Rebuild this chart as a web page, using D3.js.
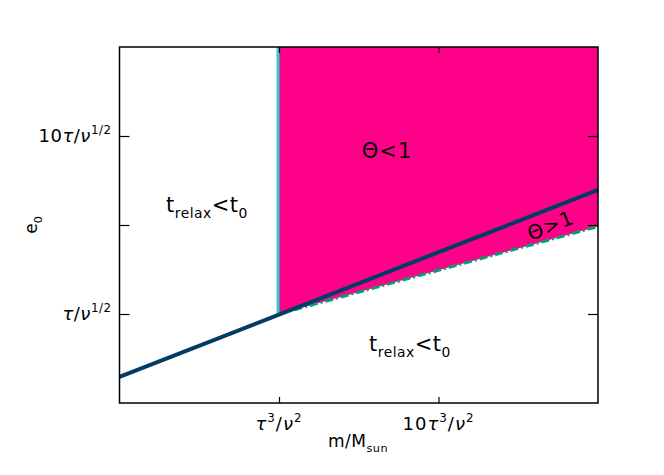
<!DOCTYPE html>
<html>
<head>
<meta charset="utf-8">
<script src="https://cdn.jsdelivr.net/npm/d3@7"></script>
<style>
  body { margin: 0; background: #fff; }
  text { font-family: "DejaVu Sans", sans-serif; fill: #000; }
</style>
</head>
<body>
<div id="visContainer"></div>
<script>
'use strict';

// axis ranges, in units of tau^3/nu^2 (x) and tau/nu^(1/2) (y)
var xDomain = [0.1, 100];
var yDomain = [0.3162, 31.62];
var xTicks = [1, 10];
var yTicks = [1, 3.162, 10];

// lines
var relaxM = [0.1, 100];
var relaxE = [0.443, 4.98];
var thetaM = [1, 100];
var thetaE = [1, 3.1];
var cyanM = [1, 1];
var cyanE = [1, 31.62];

var width = 664, height = 475;
var margin = {top: 47, left: 119.5, right: 66, bottom: 72};
var w = width - margin.left - margin.right;
var h = height - margin.top - margin.bottom;

var svg = d3.select('#visContainer')
  .append('svg')
  .attr('width', width)
  .attr('height', height);

var x = d3.scaleLog().domain(xDomain).range([0, w]);
var y = d3.scaleLog().domain(yDomain).range([h, 0]);

var g = svg.append('g').attr('transform', 'translate(' + margin.left + ',' + margin.top + ')');

// magenta region: right of the cyan line, above the theta=1 line
var region = [[cyanM[1], yDomain[1]], [xDomain[1], yDomain[1]], [thetaM[1], thetaE[1]], [thetaM[0], thetaE[0]]];
g.append('path')
  .attr('d', d3.line().x(function(d){return x(d[0]);}).y(function(d){return y(d[1]);})(region) + 'Z')
  .attr('fill', '#ff0088');

var line = d3.line().x(function(d){return x(d[0]);}).y(function(d){return y(d[1]);});
function pairs(a, b){ return a.map(function(v, i){ return [v, b[i]]; }); }

g.append('path').attr('d', line(pairs(cyanM, cyanE)))
  .attr('stroke', '#33cccc').attr('stroke-width', 3).attr('fill', 'none')
  .attr('transform', 'translate(-1,0)');

g.append('path').attr('d', line(pairs(thetaM, thetaE)))
  .attr('stroke', '#00a070').attr('stroke-width', 3).attr('fill', 'none')
  .attr('stroke-dasharray', '8,3,2,3');

g.append('path').attr('d', line(pairs(relaxM, relaxE)))
  .attr('stroke', '#003c66').attr('stroke-width', 4).attr('fill', 'none');

// frame
g.append('rect').attr('width', w).attr('height', h)
  .attr('fill', 'none').attr('stroke', '#000').attr('stroke-width', 1.5);

// ticks, pointing inward
var xb = d3.axisBottom(x).tickValues(xTicks).tickSize(-6).tickFormat('');
var xt = d3.axisTop(x).tickValues(xTicks).tickSize(-6).tickFormat('');
var yl = d3.axisLeft(y).tickValues(yTicks).tickSize(-10).tickFormat('');
var yr = d3.axisRight(y).tickValues(yTicks).tickSize(-10).tickFormat('');
[g.append('g').attr('transform', 'translate(0,' + h + ')').call(xb),
 g.append('g').call(xt),
 g.append('g').call(yl),
 g.append('g').attr('transform', 'translate(' + w + ',0)').call(yr)].forEach(function(a){
  a.select('.domain').remove();
  a.selectAll('line').attr('stroke', '#000').attr('stroke-width', 1.2);
});

// rich text helper: segments [text, style] where style in '', 'i' italic, 'sup', 'sub'
function rich(parent, px, py, segs, size, anchor, spacing) {
  var t = parent.append('text').attr('x', px).attr('y', py)
    .attr('font-size', size).attr('text-anchor', anchor || 'middle')
    .attr('letter-spacing', spacing || 0);
  var shift = 0;
  segs.forEach(function(s){
    var ts = t.append('tspan').text(s[0]);
    var dy = 0;
    if (s[1] === 'i') ts.attr('font-style', 'italic');
    if (s[1] === 'sup') { ts.attr('font-size', size * 0.66); dy = -size * 0.45; }
    if (s[1] === 'sub') { ts.attr('font-size', size * 0.66); dy = size * 0.3; }
    ts.attr('dy', dy - shift);
    shift = dy;
  });
  return t;
}

var tickSize = 18;
var yTickLabels = [
  [['τ', 'i'], ['/', ''], ['ν', 'i'], ['1/2', 'sup']],
  [],
  [['10', ''], ['τ', 'i'], ['/', ''], ['ν', 'i'], ['1/2', 'sup']]
];
yTicks.forEach(function(v, i){
  if (yTickLabels[i].length) rich(g, -8, y(v) + 6, yTickLabels[i], tickSize, 'end', 0.5);
});
var xTickLabels = [
  [['τ', 'i'], ['3', 'sup'], ['/', ''], ['ν', 'i'], ['2', 'sup']],
  [['10', ''], ['τ', 'i'], ['3', 'sup'], ['/', ''], ['ν', 'i'], ['2', 'sup']]
];
xTicks.forEach(function(v, i){
  rich(g, x(v), h + 27, xTickLabels[i], tickSize, 'middle', 1);
});

// axis titles
rich(svg, 358, 447, [['m/M', ''], ['sun', 'sub']], 17, 'middle', 0.5);
rich(svg, 0, 0, [['e', ''], ['0', 'sub']], 17, 'middle')
  .attr('transform', 'translate(37,225) rotate(-90)');

// region labels
rich(svg, 387, 158, [['Θ<1', '']], 21, 'middle', 1);
rich(svg, 207, 212, [['t', ''], ['relax', 'sub'], ['<t', ''], ['0', 'sub']], 21, 'middle', 0.5);
rich(svg, 410, 351, [['t', ''], ['relax', 'sub'], ['<t', ''], ['0', 'sub']], 21, 'middle', 0.5);
rich(svg, 0, 0, [['Θ>1', '']], 20, 'middle', 1)
  .attr('transform', 'translate(553,232) rotate(-22)');
</script>
</body>
</html>
